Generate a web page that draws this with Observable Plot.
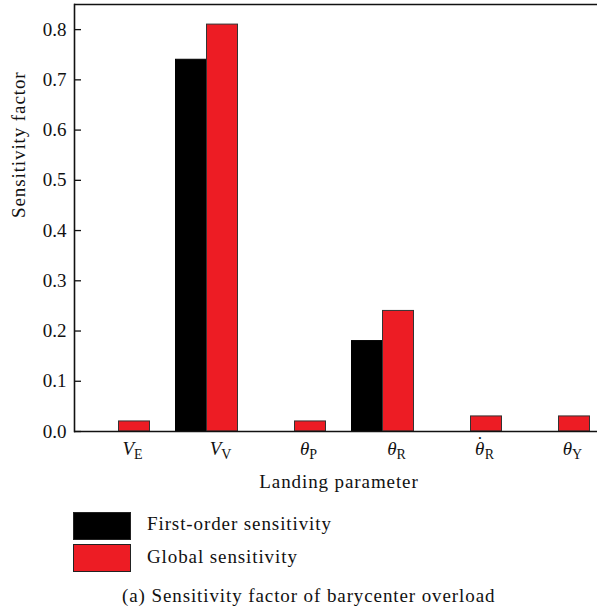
<!DOCTYPE html>
<html>
<head>
<meta charset="utf-8">
<script src="https://cdn.jsdelivr.net/npm/d3@7"></script>
<script src="https://cdn.jsdelivr.net/npm/@observablehq/plot@0.6"></script>
<style>
  html, body { margin: 0; padding: 0; background: #fff; overflow: hidden; }
  #wrap { position: relative; width: 597px; height: 610px; font-family: "Liberation Serif", "DejaVu Serif", serif; color: #111; }
  #chart svg { display: block; overflow: visible; }
  .leg { position: absolute; left: 73px; width: 56px; height: 26px; border: 1px solid #222; }
  .legtxt { position: absolute; left: 147px; font-size: 19px; letter-spacing: 0.9px; line-height: 20px; }
  #caption { position: absolute; left: 122px; top: 585px; font-size: 19px; letter-spacing: 0.9px; line-height: 22px; }
</style>
</head>
<body>
<div id="wrap">
  <div id="chart"></div>
  <div class="leg" style="top:512px;background:#000;"></div>
  <div class="legtxt" style="top:514px;">First-order sensitivity</div>
  <div class="leg" style="top:544px;background:#ED1C24;"></div>
  <div class="legtxt" style="top:547px;">Global sensitivity</div>
  <div id="caption">(a) Sensitivity factor of barycenter overload</div>
</div>
<script>
const params = ["VE", "VV", "θP", "θR", "θdotR", "θY"];
const tickMain = ["V", "V", "θ", "θ", "θ", "θ"];
const tickDot = [false, false, false, false, true, false];
const tickSub = ["E", "V", "P", "R", "R", "Y"];
const firstOrder = [0, 0.74, 0, 0.18, 0, 0];
const globalSens = [0.02, 0.81, 0.02, 0.24, 0.03, 0.03];
const yTicks = [0, 0.1, 0.2, 0.3, 0.4, 0.5, 0.6, 0.7, 0.8];
const seriesNames = ["First-order sensitivity", "Global sensitivity"];
const colors = ["#000000", "#ED1C24"];

const firstData = params.map((p, i) => ({param: p, value: firstOrder[i]}));
const globalData = params.map((p, i) => ({param: p, value: globalSens[i]}));
const labelData = params.map((p, i) => ({param: p, main: tickMain[i], dot: tickDot[i], sub: tickSub[i]}));

const half = 15.5;
const fontFam = "'Liberation Serif', 'DejaVu Serif', serif";

const chart = Plot.plot({
  width: 597,
  height: 500,
  marginLeft: 74,
  marginRight: -6,
  marginTop: 4,
  marginBottom: 69,
  style: {fontFamily: fontFam, fontSize: "19px", color: "#111", background: "#fff"},
  x: {domain: params, paddingInner: 0.648, paddingOuter: 0.324, axis: null},
  y: {domain: [0, 0.85], axis: null},
  marks: [
    Plot.barY(firstData, {x: "param", y: "value", fill: colors[0], stroke: "#000", strokeWidth: 1, dx: -half, inset: 0}),
    Plot.barY(globalData, {x: "param", y: "value", fill: colors[1], stroke: "#333", strokeWidth: 1, dx: half, inset: 0}),
    Plot.ruleY([0], {stroke: "#111", strokeWidth: 1.6}),
    Plot.ruleY([0.85], {stroke: "#111", strokeWidth: 1.6}),
    Plot.axisY({ticks: yTicks, tickFormat: d3.format(".1f"), tickSize: -7, tickPadding: 15, label: null, fontSize: 19, stroke: "#111", strokeWidth: 1.3}),
    Plot.frame({anchor: "left", stroke: "#111", strokeWidth: 1.6}),
    Plot.text(labelData, {x: "param", text: "param", frameAnchor: "bottom", dx: half - 2, dy: 23, fontSize: 19}),
    Plot.text(["Landing parameter"], {frameAnchor: "bottom", dy: 56, fontSize: 19}),
    Plot.text(["Sensitivity factor"], {frameAnchor: "left", dx: -56, rotate: -90, fontSize: 19})
  ]
});

document.getElementById("chart").appendChild(chart);

// letter spacing for the plain titles
chart.querySelectorAll("text").forEach(node => {
  const s = node.textContent;
  if (s === "Landing parameter" || s === "Sensitivity factor") node.setAttribute("letter-spacing", "0.9");
});

// rich tick labels: italic symbol with upright subscript (and dot accent)
const ns = "http://www.w3.org/2000/svg";
chart.querySelectorAll("text").forEach(node => {
  const i = params.indexOf(node.textContent);
  if (i < 0) return;
  while (node.firstChild) node.removeChild(node.firstChild);
  const a = document.createElementNS(ns, "tspan");
  a.setAttribute("font-style", "italic");
  a.textContent = labelData[i].main;
  node.appendChild(a);
  const b = document.createElementNS(ns, "tspan");
  b.setAttribute("font-size", "14");
  if (labelData[i].dot) {
    const d = document.createElementNS(ns, "tspan");
    d.setAttribute("dx", "-7.5");
    d.setAttribute("dy", "-5");
    d.textContent = "˙";
    node.appendChild(d);
    b.setAttribute("dx", "1.5");
    b.setAttribute("dy", "9");
  } else {
    b.setAttribute("dy", "4");
  }
  b.textContent = labelData[i].sub;
  node.appendChild(b);
});
</script>
</body>
</html>
